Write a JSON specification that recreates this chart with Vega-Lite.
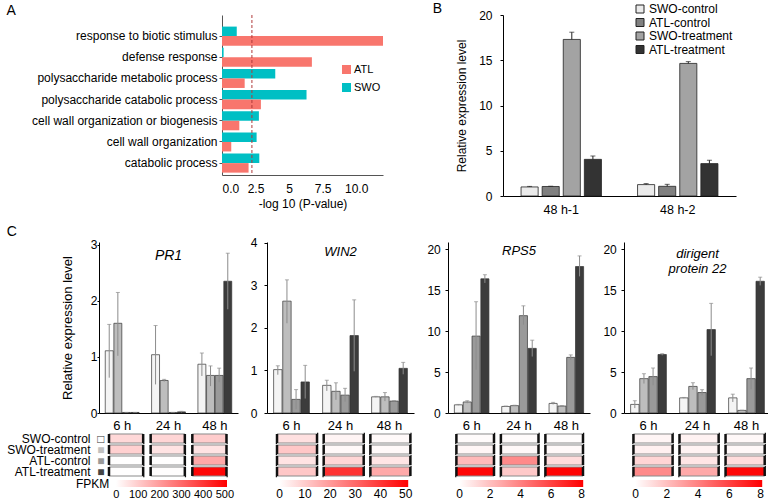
{
"$schema": "https://vega.github.io/schema/vega-lite/v6.json",
"padding": {"left": 5, "top": 2, "right": 0, "bottom": 0},
"background": "white",
"config": {
  "font": "Liberation Sans",
  "view": {"stroke": null},
  "axis": {"grid": false, "domainColor": "#000", "tickColor": "#000", "labelColor": "#000", "titleColor": "#000", "labelFontSize": 12, "titleFontSize": 12, "titleFontWeight": "normal"},
  "legend": {"labelColor": "#000", "titleColor": "#000", "titleFontWeight": "normal"},
  "title": {"fontSize": 14, "fontWeight": "normal", "anchor": "start", "frame": "bounds", "color": "#000"}
},
"datasets": {
  "go": [
    {"term": "response to biotic stimulus", "set": "SWO", "value": 1.1},
    {"term": "response to biotic stimulus", "set": "ATL", "value": 12},
    {"term": "defense response", "set": "SWO", "value": 0.12},
    {"term": "defense response", "set": "ATL", "value": 6.7},
    {"term": "polysaccharide metabolic process", "set": "SWO", "value": 3.97},
    {"term": "polysaccharide metabolic process", "set": "ATL", "value": 1.69},
    {"term": "polysaccharide catabolic process", "set": "SWO", "value": 6.3},
    {"term": "polysaccharide catabolic process", "set": "ATL", "value": 2.9},
    {"term": "cell wall organization or biogenesis", "set": "SWO", "value": 2.75},
    {"term": "cell wall organization or biogenesis", "set": "ATL", "value": 1.29},
    {"term": "cell wall organization", "set": "SWO", "value": 2.58},
    {"term": "cell wall organization", "set": "ATL", "value": 0.69},
    {"term": "catabolic process", "set": "SWO", "value": 2.78},
    {"term": "catabolic process", "set": "ATL", "value": 1.98}
  ],
  "qpcrB": [
    {"sample": "48 h-1", "grp": "SWO-control", "value": 1.0, "hi": 1.06},
    {"sample": "48 h-1", "grp": "ATL-control", "value": 1.05, "hi": 1.08},
    {"sample": "48 h-1", "grp": "SWO-treatment", "value": 17.3, "hi": 18.1},
    {"sample": "48 h-1", "grp": "ATL-treatment", "value": 4.05, "hi": 4.42},
    {"sample": "48 h-2", "grp": "SWO-control", "value": 1.26, "hi": 1.37},
    {"sample": "48 h-2", "grp": "ATL-control", "value": 1.07, "hi": 1.29},
    {"sample": "48 h-2", "grp": "SWO-treatment", "value": 14.65, "hi": 14.85},
    {"sample": "48 h-2", "grp": "ATL-treatment", "value": 3.58, "hi": 3.95}
  ],
  "qpcrC": [
    {"gene": "PR1", "time": "6 h", "group": "SWO-control", "value": 1.11, "lo": 0.63, "hi": 1.58},
    {"gene": "PR1", "time": "6 h", "group": "SWO-treatment", "value": 1.6, "lo": 1.02, "hi": 2.15},
    {"gene": "PR1", "time": "6 h", "group": "ATL-control", "value": 0.01, "lo": 0.01, "hi": 0.01},
    {"gene": "PR1", "time": "6 h", "group": "ATL-treatment", "value": 0.01, "lo": 0.01, "hi": 0.01},
    {"gene": "PR1", "time": "24 h", "group": "SWO-control", "value": 1.04, "lo": 0.51, "hi": 1.56},
    {"gene": "PR1", "time": "24 h", "group": "SWO-treatment", "value": 0.58, "lo": 0.56, "hi": 0.6},
    {"gene": "PR1", "time": "24 h", "group": "ATL-control", "value": 0.01, "lo": 0.01, "hi": 0.01},
    {"gene": "PR1", "time": "24 h", "group": "ATL-treatment", "value": 0.02, "lo": 0.01, "hi": 0.03},
    {"gene": "PR1", "time": "48 h", "group": "SWO-control", "value": 0.87, "lo": 0.66, "hi": 1.07},
    {"gene": "PR1", "time": "48 h", "group": "SWO-treatment", "value": 0.67, "lo": 0.48, "hi": 0.84},
    {"gene": "PR1", "time": "48 h", "group": "ATL-control", "value": 0.67, "lo": 0.55, "hi": 0.8},
    {"gene": "PR1", "time": "48 h", "group": "ATL-treatment", "value": 2.35, "lo": 1.85, "hi": 2.85},
    {"gene": "WIN2", "time": "6 h", "group": "SWO-control", "value": 1.02, "lo": 0.9, "hi": 1.11},
    {"gene": "WIN2", "time": "6 h", "group": "SWO-treatment", "value": 2.63, "lo": 2.11, "hi": 3.13},
    {"gene": "WIN2", "time": "6 h", "group": "ATL-control", "value": 0.32, "lo": 0.09, "hi": 0.55},
    {"gene": "WIN2", "time": "6 h", "group": "ATL-treatment", "value": 0.73, "lo": 0.34, "hi": 1.12},
    {"gene": "WIN2", "time": "24 h", "group": "SWO-control", "value": 0.65, "lo": 0.52, "hi": 0.77},
    {"gene": "WIN2", "time": "24 h", "group": "SWO-treatment", "value": 0.51, "lo": 0.31, "hi": 0.71},
    {"gene": "WIN2", "time": "24 h", "group": "ATL-control", "value": 0.42, "lo": 0.27, "hi": 0.58},
    {"gene": "WIN2", "time": "24 h", "group": "ATL-treatment", "value": 1.82, "lo": 0.98, "hi": 2.66},
    {"gene": "WIN2", "time": "48 h", "group": "SWO-control", "value": 0.38, "lo": 0.37, "hi": 0.39},
    {"gene": "WIN2", "time": "48 h", "group": "SWO-treatment", "value": 0.38, "lo": 0.28, "hi": 0.48},
    {"gene": "WIN2", "time": "48 h", "group": "ATL-control", "value": 0.28, "lo": 0.27, "hi": 0.29},
    {"gene": "WIN2", "time": "48 h", "group": "ATL-treatment", "value": 1.05, "lo": 0.91, "hi": 1.19},
    {"gene": "RPS5", "time": "6 h", "group": "SWO-control", "value": 1.0, "lo": 0.95, "hi": 1.05},
    {"gene": "RPS5", "time": "6 h", "group": "SWO-treatment", "value": 1.35, "lo": 1.2, "hi": 1.5},
    {"gene": "RPS5", "time": "6 h", "group": "ATL-control", "value": 9.4, "lo": 5.3, "hi": 13.6},
    {"gene": "RPS5", "time": "6 h", "group": "ATL-treatment", "value": 16.4, "lo": 15.9, "hi": 16.9},
    {"gene": "RPS5", "time": "24 h", "group": "SWO-control", "value": 0.8, "lo": 0.75, "hi": 0.85},
    {"gene": "RPS5", "time": "24 h", "group": "SWO-treatment", "value": 0.9, "lo": 0.85, "hi": 0.95},
    {"gene": "RPS5", "time": "24 h", "group": "ATL-control", "value": 11.9, "lo": 10.8, "hi": 13.1},
    {"gene": "RPS5", "time": "24 h", "group": "ATL-treatment", "value": 7.9, "lo": 6.9, "hi": 8.9},
    {"gene": "RPS5", "time": "48 h", "group": "SWO-control", "value": 1.17, "lo": 1.05, "hi": 1.3},
    {"gene": "RPS5", "time": "48 h", "group": "SWO-treatment", "value": 0.85, "lo": 0.8, "hi": 0.9},
    {"gene": "RPS5", "time": "48 h", "group": "ATL-control", "value": 6.8, "lo": 6.5, "hi": 7.1},
    {"gene": "RPS5", "time": "48 h", "group": "ATL-treatment", "value": 17.9, "lo": 16.7, "hi": 19.2},
    {"gene": "dirigent", "time": "6 h", "group": "SWO-control", "value": 1.05, "lo": 0.6, "hi": 1.5},
    {"gene": "dirigent", "time": "6 h", "group": "SWO-treatment", "value": 4.2, "lo": 3.6, "hi": 4.8},
    {"gene": "dirigent", "time": "6 h", "group": "ATL-control", "value": 4.45, "lo": 3.4, "hi": 5.5},
    {"gene": "dirigent", "time": "6 h", "group": "ATL-treatment", "value": 7.15, "lo": 7.05, "hi": 7.25},
    {"gene": "dirigent", "time": "24 h", "group": "SWO-control", "value": 1.85, "lo": 1.8, "hi": 1.9},
    {"gene": "dirigent", "time": "24 h", "group": "SWO-treatment", "value": 3.25, "lo": 2.85, "hi": 3.7},
    {"gene": "dirigent", "time": "24 h", "group": "ATL-control", "value": 2.5, "lo": 2.15, "hi": 2.85},
    {"gene": "dirigent", "time": "24 h", "group": "ATL-treatment", "value": 10.2, "lo": 7.0, "hi": 13.4},
    {"gene": "dirigent", "time": "48 h", "group": "SWO-control", "value": 1.85, "lo": 1.35, "hi": 2.3},
    {"gene": "dirigent", "time": "48 h", "group": "SWO-treatment", "value": 0.32, "lo": 0.3, "hi": 0.34},
    {"gene": "dirigent", "time": "48 h", "group": "ATL-control", "value": 4.2, "lo": 2.9, "hi": 5.5},
    {"gene": "dirigent", "time": "48 h", "group": "ATL-treatment", "value": 16.1, "lo": 15.6, "hi": 16.6}
  ],
  "fpkm": [
    {"gene": "PR1", "time": "6 h", "group": "SWO-control", "fpkm": 76},
    {"gene": "PR1", "time": "24 h", "group": "SWO-control", "fpkm": 82},
    {"gene": "PR1", "time": "48 h", "group": "SWO-control", "fpkm": 100},
    {"gene": "PR1", "time": "6 h", "group": "SWO-treatment", "fpkm": 92},
    {"gene": "PR1", "time": "24 h", "group": "SWO-treatment", "fpkm": 55},
    {"gene": "PR1", "time": "48 h", "group": "SWO-treatment", "fpkm": 55},
    {"gene": "PR1", "time": "6 h", "group": "ATL-control", "fpkm": 0},
    {"gene": "PR1", "time": "24 h", "group": "ATL-control", "fpkm": 0},
    {"gene": "PR1", "time": "48 h", "group": "ATL-control", "fpkm": 170},
    {"gene": "PR1", "time": "6 h", "group": "ATL-treatment", "fpkm": 0},
    {"gene": "PR1", "time": "24 h", "group": "ATL-treatment", "fpkm": 3},
    {"gene": "PR1", "time": "48 h", "group": "ATL-treatment", "fpkm": 495},
    {"gene": "WIN2", "time": "6 h", "group": "SWO-control", "fpkm": 6},
    {"gene": "WIN2", "time": "24 h", "group": "SWO-control", "fpkm": 2},
    {"gene": "WIN2", "time": "48 h", "group": "SWO-control", "fpkm": 1},
    {"gene": "WIN2", "time": "6 h", "group": "SWO-treatment", "fpkm": 11},
    {"gene": "WIN2", "time": "24 h", "group": "SWO-treatment", "fpkm": 1},
    {"gene": "WIN2", "time": "48 h", "group": "SWO-treatment", "fpkm": 1},
    {"gene": "WIN2", "time": "6 h", "group": "ATL-control", "fpkm": 5.5},
    {"gene": "WIN2", "time": "24 h", "group": "ATL-control", "fpkm": 8},
    {"gene": "WIN2", "time": "48 h", "group": "ATL-control", "fpkm": 5},
    {"gene": "WIN2", "time": "6 h", "group": "ATL-treatment", "fpkm": 11},
    {"gene": "WIN2", "time": "24 h", "group": "ATL-treatment", "fpkm": 41},
    {"gene": "WIN2", "time": "48 h", "group": "ATL-treatment", "fpkm": 17},
    {"gene": "RPS5", "time": "6 h", "group": "SWO-control", "fpkm": 0.1},
    {"gene": "RPS5", "time": "24 h", "group": "SWO-control", "fpkm": 0.1},
    {"gene": "RPS5", "time": "48 h", "group": "SWO-control", "fpkm": 0.05},
    {"gene": "RPS5", "time": "6 h", "group": "SWO-treatment", "fpkm": 0.25},
    {"gene": "RPS5", "time": "24 h", "group": "SWO-treatment", "fpkm": 0.2},
    {"gene": "RPS5", "time": "48 h", "group": "SWO-treatment", "fpkm": 0.15},
    {"gene": "RPS5", "time": "6 h", "group": "ATL-control", "fpkm": 2.2},
    {"gene": "RPS5", "time": "24 h", "group": "ATL-control", "fpkm": 3.7},
    {"gene": "RPS5", "time": "48 h", "group": "ATL-control", "fpkm": 1.1},
    {"gene": "RPS5", "time": "6 h", "group": "ATL-treatment", "fpkm": 7.9},
    {"gene": "RPS5", "time": "24 h", "group": "ATL-treatment", "fpkm": 1.7},
    {"gene": "RPS5", "time": "48 h", "group": "ATL-treatment", "fpkm": 8},
    {"gene": "dirigent", "time": "6 h", "group": "SWO-control", "fpkm": 0.3},
    {"gene": "dirigent", "time": "24 h", "group": "SWO-control", "fpkm": 0.4},
    {"gene": "dirigent", "time": "48 h", "group": "SWO-control", "fpkm": 0.2},
    {"gene": "dirigent", "time": "6 h", "group": "SWO-treatment", "fpkm": 0.45},
    {"gene": "dirigent", "time": "24 h", "group": "SWO-treatment", "fpkm": 0.35},
    {"gene": "dirigent", "time": "48 h", "group": "SWO-treatment", "fpkm": 0.2},
    {"gene": "dirigent", "time": "6 h", "group": "ATL-control", "fpkm": 1.3},
    {"gene": "dirigent", "time": "24 h", "group": "ATL-control", "fpkm": 0.8},
    {"gene": "dirigent", "time": "48 h", "group": "ATL-control", "fpkm": 1.1},
    {"gene": "dirigent", "time": "6 h", "group": "ATL-treatment", "fpkm": 3.7},
    {"gene": "dirigent", "time": "24 h", "group": "ATL-treatment", "fpkm": 2.7},
    {"gene": "dirigent", "time": "48 h", "group": "ATL-treatment", "fpkm": 7.9}
  ]
},
"resolve": {"scale": {"color": "independent", "xOffset": "independent", "yOffset": "independent"}, "legend": {"color": "independent"}},
"columns": 1,
"align": "none",
"spacing": 8,
"concat": [
{
  "spacing": 0,
  "resolve": {"scale": {"color": "independent", "xOffset": "independent", "yOffset": "independent"}, "legend": {"color": "independent"}},
  "hconcat": [
  {"width": 1, "height": 1, "data": {"values": [{"z": 0}]}, "mark": {"type": "point", "opacity": 0, "size": 0}, "encoding": {}},
  {
  "hconcat": [
  {
    "title": {"text": "A", "dx": -25, "offset": -3},
    "width": 161, "height": 160,
    "layer": [
      {
        "data": {"name": "go"},
        "mark": {"type": "bar"},
        "encoding": {
          "y": {"field": "term", "type": "nominal", "sort": ["response to biotic stimulus", "defense response", "polysaccharide metabolic process", "polysaccharide catabolic process", "cell wall organization or biogenesis", "cell wall organization", "catabolic process"], "scale": {"paddingInner": 0.1, "paddingOuter": 0.33, "align": 0.83}, "axis": {"title": null, "labelFontSize": 12, "labelLimit": 300, "tickSize": 3, "tickColor": "#555", "domainColor": "#555", "labelPadding": 2}},
          "yOffset": {"field": "set", "type": "nominal", "scale": {"domain": ["SWO", "ATL"]}},
          "x": {"field": "value", "type": "quantitative", "scale": {"domain": [0, 12], "nice": false}, "axis": {"values": [0, 2.5, 5, 7.5, 10], "labelExpr": "datum.value == 0 ? '0.0' : datum.value == 10 ? '10.0' : datum.value + ''", "title": "-log 10 (P-value)", "ticks": false, "tickSize": 0, "labelPadding": 8, "labelFontSize": 12, "titlePadding": 4, "domainColor": "#555"}},
          "color": {"field": "set", "type": "nominal", "scale": {"domain": ["ATL", "SWO"], "range": ["#F8766D", "#00BFC4"]}, "legend": {"title": null, "orient": "none", "legendX": 119, "legendY": 49, "symbolType": "square", "symbolSize": 81, "symbolStrokeWidth": 0, "labelFontSize": 11, "rowPadding": 6, "labelOffset": 2}}
        }
      },
      {
        "data": {"values": [{"cutoff": 2.23}]},
        "mark": {"type": "rule", "color": "#b03a3a", "strokeDash": [3, 2], "strokeWidth": 1},
        "encoding": {"x": {"field": "cutoff", "type": "quantitative"}}
      }
    ]
  },
  {
    "title": {"text": "B", "dx": -23, "offset": -13},
    "width": 233, "height": 181,
    "data": {"name": "qpcrB"},
    "layer": [
      {
        "mark": {"type": "bar", "stroke": "#222", "strokeWidth": 0.8},
        "encoding": {
          "x": {"field": "sample", "type": "nominal", "sort": ["48 h-1", "48 h-2"], "scale": {"paddingInner": 0.31, "paddingOuter": 0.155}, "axis": {"title": null, "labelAngle": 0, "ticks": false, "tickSize": 0, "labelPadding": 7, "labelFontSize": 12.5}},
          "xOffset": {"field": "grp", "type": "nominal", "scale": {"domain": ["SWO-control", "ATL-control", "SWO-treatment", "ATL-treatment"], "paddingInner": 0.19}},
          "y": {"field": "value", "type": "quantitative", "scale": {"domain": [0, 20], "nice": false}, "axis": {"values": [0, 5, 10, 15, 20], "format": "d", "title": "Relative expression level", "tickSize": 3, "labelPadding": 8, "titlePadding": 10}},
          "color": {"field": "grp", "type": "nominal", "scale": {"domain": ["SWO-control", "ATL-control", "SWO-treatment", "ATL-treatment"], "range": ["#ebebeb", "#808080", "#a3a3a3", "#333333"]}, "legend": {"title": null, "orient": "none", "legendX": 131, "legendY": -12, "symbolType": "square", "symbolSize": 64, "symbolStrokeColor": "#222", "symbolStrokeWidth": 1, "labelFontSize": 12, "rowPadding": 1.5, "labelOffset": 3}}
        }
      },
      {
        "mark": {"type": "rule", "color": "#222", "strokeWidth": 1},
        "encoding": {
          "x": {"field": "sample", "type": "nominal", "sort": ["48 h-1", "48 h-2"]},
          "xOffset": {"field": "grp", "type": "nominal"},
          "y": {"field": "value", "type": "quantitative"},
          "y2": {"field": "hi"}
        }
      },
      {
        "mark": {"type": "tick", "color": "#222", "orient": "horizontal", "size": 5, "thickness": 1},
        "encoding": {
          "x": {"field": "sample", "type": "nominal", "sort": ["48 h-1", "48 h-2"]},
          "xOffset": {"field": "grp", "type": "nominal"},
          "y": {"field": "hi", "type": "quantitative"}
        }
      }
    ]
  }
  ],
  "spacing": 49,
  "resolve": {"scale": {"color": "independent", "xOffset": "independent", "yOffset": "independent"}, "legend": {"color": "independent"}}
  }
  ]
},
{
  "spacing": 0,
  "resolve": {"scale": {"color": "independent", "xOffset": "independent"}, "legend": {"color": "independent"}},
  "hconcat": [
  {"width": 1, "height": 1, "data": {"values": [{"z": 0}]}, "mark": {"type": "point", "opacity": 0, "size": 0}, "encoding": {}},
  {
  "hconcat": [
  {
    "title": {"text": "C", "offset": 0},
    "spacing": 0,
    "resolve": {"scale": {"color": "independent", "xOffset": "independent"}, "legend": {"color": "independent"}},
    "vconcat": [
    {
      "width": 139, "height": 171,
      "data": {"name": "qpcrC"},
      "transform": [{"filter": "datum.gene == 'PR1'"}],
      "layer": [
        {"mark": {"type": "bar", "stroke": "#333", "strokeWidth": 0.7},
         "encoding": {
           "x": {"field": "time", "type": "nominal", "sort": ["6 h", "24 h", "48 h"], "scale": {"paddingInner": 0.27, "paddingOuter": 0.135}, "axis": {"title": null, "labelAngle": 0, "ticks": false, "tickSize": 0, "labelFontSize": 13, "labelPadding": 6}},
           "xOffset": {"field": "group", "type": "nominal", "scale": {"domain": ["SWO-control", "SWO-treatment", "ATL-control", "ATL-treatment"], "paddingInner": 0.08}},
           "y": {"field": "value", "type": "quantitative", "scale": {"domain": [0, 3.05], "nice": false}, "axis": {"values": [0, 1, 2, 3], "format": "d", "title": "Relative expression level", "titleFontSize": 13, "tickSize": 2, "labelPadding": 0, "titlePadding": 16}},
           "color": {"field": "group", "type": "nominal", "scale": {"domain": ["SWO-control", "SWO-treatment", "ATL-control", "ATL-treatment"], "range": ["#f4f4f4", "#bdbdbd", "#9a9a9a", "#3c3c3c"]}, "legend": null}
         }},
        {"mark": {"type": "rule", "color": "#8c8c8c", "strokeWidth": 1},
         "encoding": {
           "x": {"field": "time", "type": "nominal", "sort": ["6 h", "24 h", "48 h"]},
           "xOffset": {"field": "group", "type": "nominal"},
           "y": {"field": "lo", "type": "quantitative"}, "y2": {"field": "hi"}
         }},
        {"mark": {"type": "tick", "color": "#8c8c8c", "orient": "horizontal", "size": 4, "thickness": 1},
         "encoding": {
           "x": {"field": "time", "type": "nominal", "sort": ["6 h", "24 h", "48 h"]},
           "xOffset": {"field": "group", "type": "nominal"},
           "y": {"field": "hi", "type": "quantitative"}
         }},
        {"data": {"values": [{"gene": "PR1", "label": "PR1"}]},
         "mark": {"type": "text", "fontStyle": "italic", "fontSize": 14},
         "encoding": {"text": {"field": "label"}, "x": {"datum": "24 h"}, "y": {"datum": 2.8}}}
      ]
    },
    {
      "width": 139, "height": 44,
      "data": {"name": "fpkm"},
      "transform": [{"filter": "datum.gene == 'PR1'"}],
      "resolve": {"scale": {"y": "independent"}, "axis": {"y": "independent"}},
      "layer": [
        {"mark": {"type": "rect", "stroke": "#8a8a8a", "strokeWidth": 1},
         "encoding": {
           "x": {"field": "time", "type": "nominal", "sort": ["6 h", "24 h", "48 h"], "scale": {"paddingInner": 0.18, "paddingOuter": 0.258, "align": 0.465}, "axis": null},
           "y": {"field": "group", "type": "nominal", "sort": ["SWO-control", "SWO-treatment", "ATL-control", "ATL-treatment"], "scale": {"paddingInner": 0.18, "paddingOuter": 0.09}, "axis": {"title": null, "orient": "left", "domain": false, "ticks": false, "tickSize": 0, "labelPadding": 9, "labelFontSize": 12}},
           "color": {"field": "fpkm", "type": "quantitative", "scale": {"domain": [-2, 510], "range": ["#ffffff", "#ff0000"], "interpolate": "rgb"}, "legend": {"title": "FPKM", "titleOrient": "left", "titleFontSize": 12, "titlePadding": 6, "orient": "none", "legendX": -23, "legendY": 47, "direction": "horizontal", "gradientLength": 111, "gradientThickness": 7, "gradientStrokeWidth": 0, "values": [0, 100, 200, 300, 400, 500], "labelFontSize": 11, "labelAlign": "center", "labelOverlap": false, "labelOffset": 2}}
         }},
        {"mark": {"type": "rect", "fillOpacity": 0, "stroke": "#111", "strokeWidth": 2.5, "strokeDash": [0, 34.167, 9.02, 34.167, 9.02]},
         "encoding": {
           "x": {"field": "time", "type": "nominal", "sort": ["6 h", "24 h", "48 h"], "axis": null},
           "y": {"field": "group", "type": "nominal", "sort": ["SWO-control", "SWO-treatment", "ATL-control", "ATL-treatment"], "scale": {"paddingInner": 0.18, "paddingOuter": 0.09}, "axis": {"title": null, "orient": "left", "offset": -6, "domain": false, "ticks": false, "tickSize": 0, "labelPadding": 1, "labelFontSize": 12, "labelExpr": "datum.value == 'SWO-control' ? '\u25a1' : '\u25a0'", "labelColor": {"condition": [{"test": "datum.value == 'SWO-treatment'", "value": "#c0c0c0"}, {"test": "datum.value == 'ATL-control'", "value": "#9a9a9a"}, {"test": "datum.value == 'ATL-treatment'", "value": "#444444"}], "value": "#333333"}}}
         }}
      ]
    }
    ]
  },
  {
    "spacing": 0,
    "resolve": {"scale": {"color": "independent", "xOffset": "independent"}, "legend": {"color": "independent"}},
    "vconcat": [
    {
      "width": 147, "height": 171,
      "data": {"name": "qpcrC"},
      "transform": [{"filter": "datum.gene == 'WIN2'"}],
      "layer": [
        {"mark": {"type": "bar", "stroke": "#333", "strokeWidth": 0.7},
         "encoding": {
           "x": {"field": "time", "type": "nominal", "sort": ["6 h", "24 h", "48 h"], "scale": {"paddingInner": 0.27, "paddingOuter": 0.135}, "axis": {"title": null, "labelAngle": 0, "ticks": false, "tickSize": 0, "labelFontSize": 13, "labelPadding": 6}},
           "xOffset": {"field": "group", "type": "nominal", "scale": {"domain": ["SWO-control", "SWO-treatment", "ATL-control", "ATL-treatment"], "paddingInner": 0.08}},
           "y": {"field": "value", "type": "quantitative", "scale": {"domain": [0, 4.02], "nice": false}, "axis": {"values": [0, 1, 2, 3, 4], "format": "d", "title": null, "tickSize": 3, "labelPadding": 7}},
           "color": {"field": "group", "type": "nominal", "scale": {"domain": ["SWO-control", "SWO-treatment", "ATL-control", "ATL-treatment"], "range": ["#f4f4f4", "#bdbdbd", "#9a9a9a", "#3c3c3c"]}, "legend": null}
         }},
        {"mark": {"type": "rule", "color": "#8c8c8c", "strokeWidth": 1},
         "encoding": {
           "x": {"field": "time", "type": "nominal", "sort": ["6 h", "24 h", "48 h"]},
           "xOffset": {"field": "group", "type": "nominal"},
           "y": {"field": "lo", "type": "quantitative"}, "y2": {"field": "hi"}
         }},
        {"mark": {"type": "tick", "color": "#8c8c8c", "orient": "horizontal", "size": 4, "thickness": 1},
         "encoding": {
           "x": {"field": "time", "type": "nominal", "sort": ["6 h", "24 h", "48 h"]},
           "xOffset": {"field": "group", "type": "nominal"},
           "y": {"field": "hi", "type": "quantitative"}
         }},
        {"data": {"values": [{"gene": "WIN2", "label": "WIN2"}]},
         "mark": {"type": "text", "fontStyle": "italic", "fontSize": 13},
         "encoding": {"text": {"field": "label"}, "x": {"datum": "24 h"}, "y": {"datum": 3.78}}}
      ]
    },
    {
      "width": 147, "height": 44,
      "data": {"name": "fpkm"},
      "transform": [{"filter": "datum.gene == 'WIN2'"}],
      "layer": [
        {"mark": {"type": "rect", "stroke": "#8a8a8a", "strokeWidth": 1},
         "encoding": {
           "x": {"field": "time", "type": "nominal", "sort": ["6 h", "24 h", "48 h"], "scale": {"paddingInner": 0.143, "paddingOuter": 0.146, "align": 0.735}, "axis": null},
           "y": {"field": "group", "type": "nominal", "sort": ["SWO-control", "SWO-treatment", "ATL-control", "ATL-treatment"], "scale": {"paddingInner": 0.18, "paddingOuter": 0.09}, "axis": null},
           "color": {"field": "fpkm", "type": "quantitative", "scale": {"domain": [-0.2, 51], "range": ["#ffffff", "#ff0000"], "interpolate": "rgb"}, "legend": {"title": null, "orient": "none", "legendX": 12.2, "legendY": 47, "direction": "horizontal", "gradientLength": 129, "gradientThickness": 7, "gradientStrokeWidth": 0, "values": [0, 10, 20, 30, 40, 50], "labelFontSize": 12, "labelAlign": "center", "labelOverlap": false, "labelOffset": 2}}
         }},
        {"mark": {"type": "rect", "fillOpacity": 0, "stroke": "#111", "strokeWidth": 2.5, "strokeDash": [0, 40.0, 9.02, 40.0, 9.02]},
         "encoding": {
           "x": {"field": "time", "type": "nominal", "sort": ["6 h", "24 h", "48 h"]},
           "y": {"field": "group", "type": "nominal", "sort": ["SWO-control", "SWO-treatment", "ATL-control", "ATL-treatment"]}
         }}
      ]
    }
    ]
  },
  {
    "spacing": 0,
    "resolve": {"scale": {"color": "independent", "xOffset": "independent"}, "legend": {"color": "independent"}},
    "vconcat": [
    {
      "width": 142, "height": 171,
      "data": {"name": "qpcrC"},
      "transform": [{"filter": "datum.gene == 'RPS5'"}],
      "layer": [
        {"mark": {"type": "bar", "stroke": "#333", "strokeWidth": 0.7},
         "encoding": {
           "x": {"field": "time", "type": "nominal", "sort": ["6 h", "24 h", "48 h"], "scale": {"paddingInner": 0.27, "paddingOuter": 0.135}, "axis": {"title": null, "labelAngle": 0, "ticks": false, "tickSize": 0, "labelFontSize": 13, "labelPadding": 6}},
           "xOffset": {"field": "group", "type": "nominal", "scale": {"domain": ["SWO-control", "SWO-treatment", "ATL-control", "ATL-treatment"], "paddingInner": 0.08}},
           "y": {"field": "value", "type": "quantitative", "scale": {"domain": [0, 20.9], "nice": false}, "axis": {"values": [0, 5, 10, 15, 20], "format": "d", "title": null, "tickSize": 3, "labelPadding": 4.7}},
           "color": {"field": "group", "type": "nominal", "scale": {"domain": ["SWO-control", "SWO-treatment", "ATL-control", "ATL-treatment"], "range": ["#f4f4f4", "#bdbdbd", "#9a9a9a", "#3c3c3c"]}, "legend": null}
         }},
        {"mark": {"type": "rule", "color": "#8c8c8c", "strokeWidth": 1},
         "encoding": {
           "x": {"field": "time", "type": "nominal", "sort": ["6 h", "24 h", "48 h"]},
           "xOffset": {"field": "group", "type": "nominal"},
           "y": {"field": "lo", "type": "quantitative"}, "y2": {"field": "hi"}
         }},
        {"mark": {"type": "tick", "color": "#8c8c8c", "orient": "horizontal", "size": 4, "thickness": 1},
         "encoding": {
           "x": {"field": "time", "type": "nominal", "sort": ["6 h", "24 h", "48 h"]},
           "xOffset": {"field": "group", "type": "nominal"},
           "y": {"field": "hi", "type": "quantitative"}
         }},
        {"data": {"values": [{"gene": "RPS5", "label": "RPS5"}]},
         "mark": {"type": "text", "fontStyle": "italic", "fontSize": 13},
         "encoding": {"text": {"field": "label"}, "x": {"datum": "24 h"}, "y": {"datum": 19.8}}}
      ]
    },
    {
      "width": 142, "height": 44,
      "data": {"name": "fpkm"},
      "transform": [{"filter": "datum.gene == 'RPS5'"}],
      "layer": [
        {"mark": {"type": "rect", "stroke": "#8a8a8a", "strokeWidth": 1},
         "encoding": {
           "x": {"field": "time", "type": "nominal", "sort": ["6 h", "24 h", "48 h"], "scale": {"paddingInner": 0.155, "paddingOuter": 0.173, "align": 0.545}, "axis": null},
           "y": {"field": "group", "type": "nominal", "sort": ["SWO-control", "SWO-treatment", "ATL-control", "ATL-treatment"], "scale": {"paddingInner": 0.18, "paddingOuter": 0.09}, "axis": null},
           "color": {"field": "fpkm", "type": "quantitative", "scale": {"domain": [-0.03, 8.1], "range": ["#ffffff", "#ff0000"], "interpolate": "rgb"}, "legend": {"title": null, "orient": "none", "legendX": 11.2, "legendY": 47, "direction": "horizontal", "gradientLength": 124, "gradientThickness": 7, "gradientStrokeWidth": 0, "values": [0, 2, 4, 6, 8], "labelFontSize": 12, "labelAlign": "center", "labelOverlap": false, "labelOffset": 2}}
         }},
        {"mark": {"type": "rect", "fillOpacity": 0, "stroke": "#111", "strokeWidth": 2.5, "strokeDash": [0, 37.6, 9.02, 37.6, 9.02]},
         "encoding": {
           "x": {"field": "time", "type": "nominal", "sort": ["6 h", "24 h", "48 h"]},
           "y": {"field": "group", "type": "nominal", "sort": ["SWO-control", "SWO-treatment", "ATL-control", "ATL-treatment"]}
         }}
      ]
    }
    ]
  },
  {
    "spacing": 0,
    "resolve": {"scale": {"color": "independent", "xOffset": "independent"}, "legend": {"color": "independent"}},
    "vconcat": [
    {
      "width": 147, "height": 171,
      "data": {"name": "qpcrC"},
      "transform": [{"filter": "datum.gene == 'dirigent'"}],
      "layer": [
        {"mark": {"type": "bar", "stroke": "#333", "strokeWidth": 0.7},
         "encoding": {
           "x": {"field": "time", "type": "nominal", "sort": ["6 h", "24 h", "48 h"], "scale": {"paddingInner": 0.27, "paddingOuter": 0.135}, "axis": {"title": null, "labelAngle": 0, "ticks": false, "tickSize": 0, "labelFontSize": 13, "labelPadding": 6}},
           "xOffset": {"field": "group", "type": "nominal", "scale": {"domain": ["SWO-control", "SWO-treatment", "ATL-control", "ATL-treatment"], "paddingInner": 0.08}},
           "y": {"field": "value", "type": "quantitative", "scale": {"domain": [0, 20.9], "nice": false}, "axis": {"values": [0, 5, 10, 15, 20], "format": "d", "title": null, "tickSize": 3, "labelPadding": 4.7}},
           "color": {"field": "group", "type": "nominal", "scale": {"domain": ["SWO-control", "SWO-treatment", "ATL-control", "ATL-treatment"], "range": ["#f4f4f4", "#bdbdbd", "#9a9a9a", "#3c3c3c"]}, "legend": null}
         }},
        {"mark": {"type": "rule", "color": "#8c8c8c", "strokeWidth": 1},
         "encoding": {
           "x": {"field": "time", "type": "nominal", "sort": ["6 h", "24 h", "48 h"]},
           "xOffset": {"field": "group", "type": "nominal"},
           "y": {"field": "lo", "type": "quantitative"}, "y2": {"field": "hi"}
         }},
        {"mark": {"type": "tick", "color": "#8c8c8c", "orient": "horizontal", "size": 4, "thickness": 1},
         "encoding": {
           "x": {"field": "time", "type": "nominal", "sort": ["6 h", "24 h", "48 h"]},
           "xOffset": {"field": "group", "type": "nominal"},
           "y": {"field": "hi", "type": "quantitative"}
         }},
        {"data": {"values": [{"gene": "dirigent", "label": "dirigent\nprotein 22"}]},
         "mark": {"type": "text", "fontStyle": "italic", "fontSize": 13, "lineBreak": "\n", "lineHeight": 15},
         "encoding": {"text": {"field": "label"}, "x": {"datum": "24 h"}, "y": {"datum": 19.4}}}
      ]
    },
    {
      "width": 147, "height": 44,
      "data": {"name": "fpkm"},
      "transform": [{"filter": "datum.gene == 'dirigent'"}],
      "layer": [
        {"mark": {"type": "rect", "stroke": "#8a8a8a", "strokeWidth": 1},
         "encoding": {
           "x": {"field": "time", "type": "nominal", "sort": ["6 h", "24 h", "48 h"], "scale": {"paddingInner": 0.15, "paddingOuter": 0.171, "align": 0.6}, "axis": null},
           "y": {"field": "group", "type": "nominal", "sort": ["SWO-control", "SWO-treatment", "ATL-control", "ATL-treatment"], "scale": {"paddingInner": 0.18, "paddingOuter": 0.09}, "axis": null},
           "color": {"field": "fpkm", "type": "quantitative", "scale": {"domain": [-0.03, 8.1], "range": ["#ffffff", "#ff0000"], "interpolate": "rgb"}, "legend": {"title": null, "orient": "none", "legendX": 11.2, "legendY": 47, "direction": "horizontal", "gradientLength": 127, "gradientThickness": 7, "gradientStrokeWidth": 0, "values": [0, 2, 4, 6, 8], "labelFontSize": 12, "labelAlign": "center", "labelOverlap": false, "labelOffset": 2}}
         }},
        {"mark": {"type": "rect", "fillOpacity": 0, "stroke": "#111", "strokeWidth": 2.5, "strokeDash": [0, 39.14, 9.02, 39.14, 9.02]},
         "encoding": {
           "x": {"field": "time", "type": "nominal", "sort": ["6 h", "24 h", "48 h"]},
           "y": {"field": "group", "type": "nominal", "sort": ["SWO-control", "SWO-treatment", "ATL-control", "ATL-treatment"]}
         }}
      ]
    }
    ]
  }
  ],
  "spacing": 12,
  "resolve": {"scale": {"color": "independent", "xOffset": "independent"}, "legend": {"color": "independent"}}
  }
  ]
}
]
}
